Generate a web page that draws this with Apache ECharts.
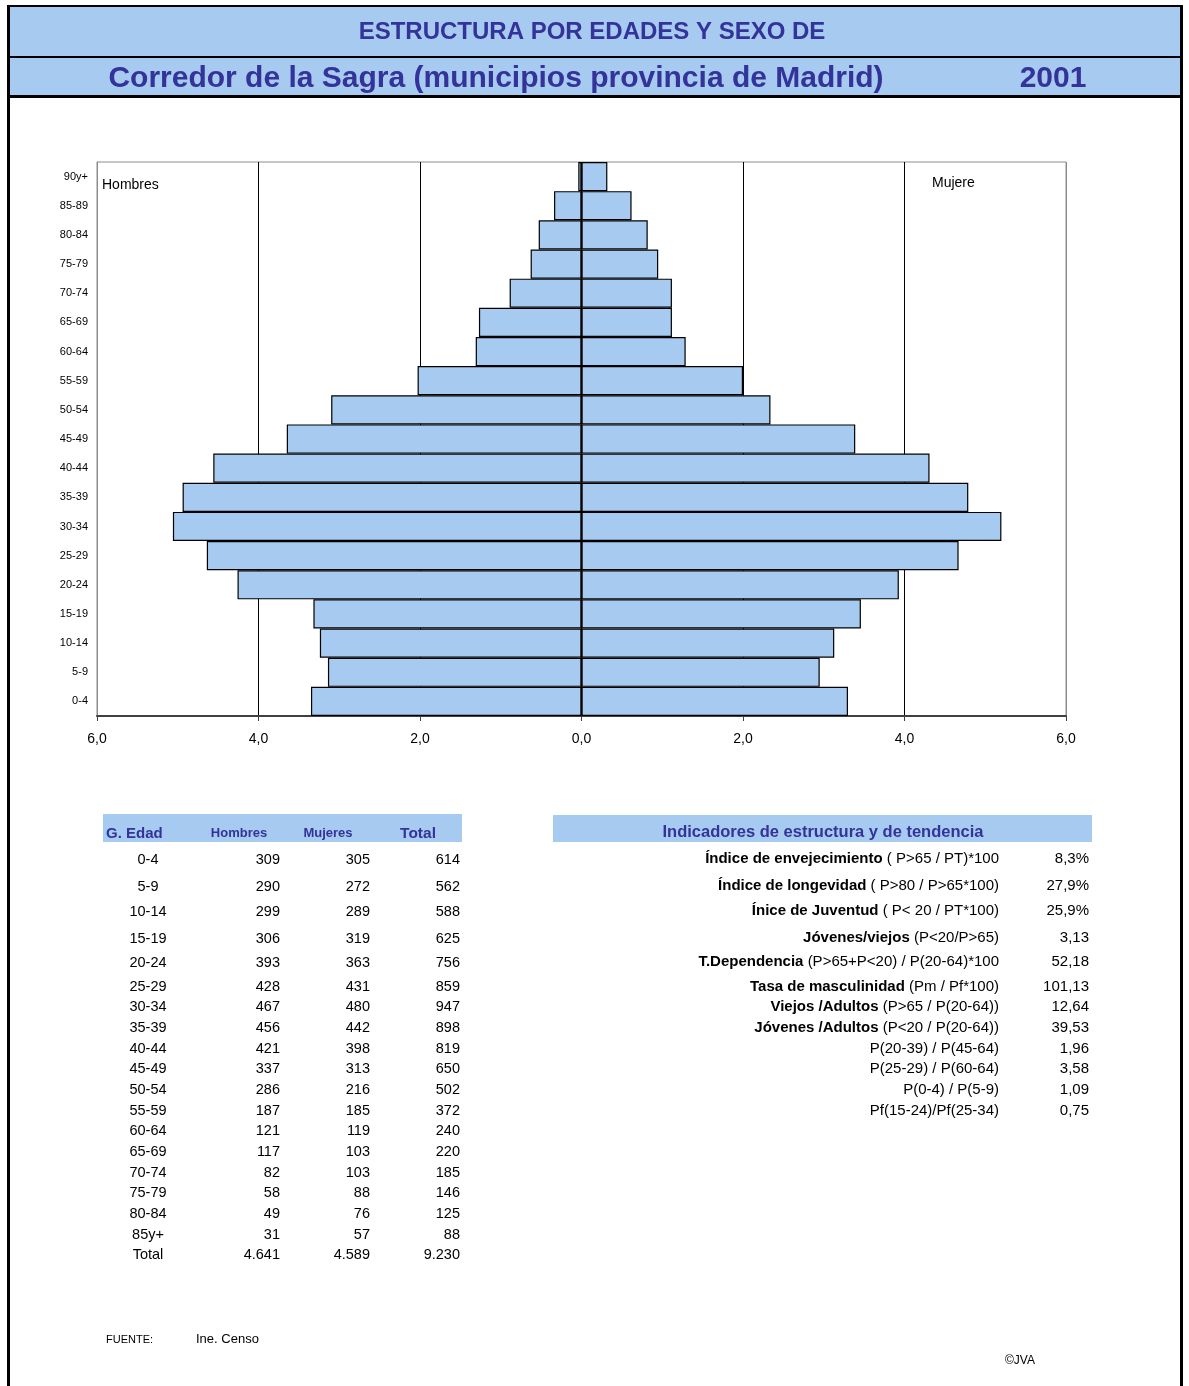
<!DOCTYPE html>
<html>
<head>
<meta charset="utf-8">
<title>Estructura por edades y sexo - Corredor de la Sagra 2001</title>
<script src="https://cdn.jsdelivr.net/npm/echarts@6/dist/echarts.min.js"></script>
<style>
  html, body { margin: 0; padding: 0; background: #fff; }
  #page { width: 1189px; height: 1386px; }
</style>
</head>
<body>
<div id="page"></div>
<script>
// ---- Pyramid data (% of total population) ----
const ageGroups = ['0-4','5-9','10-14','15-19','20-24','25-29','30-34','35-39','40-44','45-49',
                   '50-54','55-59','60-64','65-69','70-74','75-79','80-84','85-89','90y+'];
const hombresPct = [3.35,3.14,3.24,3.32,4.26,4.64,5.06,4.94,4.56,3.65,3.10,2.03,1.31,1.27,0.89,0.63,0.53,0.34,0.04];
const mujeresPct = [3.30,2.95,3.13,3.46,3.93,4.67,5.20,4.79,4.31,3.39,2.34,2.00,1.29,1.12,1.12,0.95,0.82,0.62,0.32];
const axisTicks = [-6, -4, -2, 0, 2, 4, 6];

// ---- Table data (inhabitants) ----
const tablaEdades = ['0-4','5-9','10-14','15-19','20-24','25-29','30-34','35-39','40-44','45-49',
                     '50-54','55-59','60-64','65-69','70-74','75-79','80-84','85y+','Total'];
const tablaHombres = [309,290,299,306,393,428,467,456,421,337,286,187,121,117,82,58,49,31,4641];
const tablaMujeres = [305,272,289,319,363,431,480,442,398,313,216,185,119,103,103,88,76,57,4589];
const tablaTotal   = [614,562,588,625,756,859,947,898,819,650,502,372,240,220,185,146,125,88,9230];

// ---- Structure and trend indicators ----
const indicadoresNombre = ['Índice de envejecimiento','Índice de longevidad','Ínice de Juventud','Jóvenes/viejos',
  'T.Dependencia','Tasa de masculinidad','Viejos /Adultos','Jóvenes /Adultos','','','',''];
const indicadoresFormula = [' ( P>65 / PT)*100',' ( P>80 / P>65*100)',' ( P< 20 / PT*100)',' (P<20/P>65)',
  ' (P>65+P<20) / P(20-64)*100',' (Pm / Pf*100)',' (P>65 / P(20-64))',' (P<20 / P(20-64))',
  'P(20-39) / P(45-64)','P(25-29) / P(60-64)','P(0-4) / P(5-9)','Pf(15-24)/Pf(25-34)'];
const indicadoresValor = ['8,3%','27,9%','25,9%','3,13','52,18','101,13','12,64','39,53','1,96','3,58','1,09','0,75'];

// ---- Layout ----
const FONT = '"Liberation Sans", Arial, sans-serif';
const BLUE_FILL = '#a6caf0';
const TITLE_COLOR = '#333399';
const TEXT_DY = 1.5;  // baseline nudge for middle-aligned text
const tablaRowY = [858,885,910,937,961,985,1005,1026,1047,1067,1088,1109,1129,1150,1171,1191,1212,1233,1253];
const indicRowY = [857,884,909,936,960,985,1005,1026,1047,1067,1088,1109];

function fmtMiles(n) {
  return String(n).replace(/\B(?=(\d{3})+(?!\d))/g, '.');
}
function fmtAxis(v) {
  return Math.abs(v).toFixed(1).replace('.', ',');
}

const graphics = [];
function txt(x, y, text, opts) {
  graphics.push({
    type: 'text', x: x, y: y + TEXT_DY, silent: true,
    style: Object.assign({
      text: text, fontFamily: FONT, fontSize: 14, fill: '#000',
      align: 'left', verticalAlign: 'middle'
    }, opts || {})
  });
}
function rect(x, y, w, h, fill) {
  graphics.push({ type: 'rect', silent: true, shape: { x: x, y: y, width: w, height: h }, style: { fill: fill } });
}

// Header bands and page frame
rect(9, 7, 1172, 49, BLUE_FILL);
rect(9, 58, 1172, 37, BLUE_FILL);
rect(7, 5, 1176, 2, '#000');
rect(7, 56, 1176, 2, '#000');
rect(7, 95, 1176, 3, '#000');
rect(7, 5, 3, 1381, '#000');
rect(1180, 5, 3, 1381, '#000');

txt(592, 31, 'ESTRUCTURA POR EDADES Y SEXO DE', { align: 'center', fontSize: 24, fontWeight: 'bold', fill: TITLE_COLOR });
txt(496, 77, 'Corredor de la Sagra (municipios provincia de Madrid)', { align: 'center', fontSize: 30, fontWeight: 'bold', fill: TITLE_COLOR });
txt(1053, 77, '2001', { align: 'center', fontSize: 30, fontWeight: 'bold', fill: TITLE_COLOR });

// Side captions inside the plot
txt(102, 184, 'Hombres', { fontSize: 14 });
txt(932, 182, 'Mujere', { fontSize: 14 });

// Age / sex table
rect(103, 814, 359, 28, BLUE_FILL);
txt(106, 832, 'G. Edad', { fontSize: 15, fontWeight: 'bold', fill: TITLE_COLOR });
txt(239, 832, 'Hombres', { align: 'center', fontSize: 13, fontWeight: 'bold', fill: TITLE_COLOR });
txt(328, 832, 'Mujeres', { align: 'center', fontSize: 13, fontWeight: 'bold', fill: TITLE_COLOR });
txt(418, 832, 'Total', { align: 'center', fontSize: 15.5, fontWeight: 'bold', fill: TITLE_COLOR });
tablaEdades.forEach(function (g, i) {
  const y = tablaRowY[i];
  txt(148, y, g, { align: 'center', fontSize: 14.5 });
  txt(280, y, fmtMiles(tablaHombres[i]), { align: 'right', fontSize: 14.5 });
  txt(370, y, fmtMiles(tablaMujeres[i]), { align: 'right', fontSize: 14.5 });
  txt(460, y, fmtMiles(tablaTotal[i]), { align: 'right', fontSize: 14.5 });
});

// Indicators block
rect(553, 815, 539, 27, BLUE_FILL);
txt(823, 831, 'Indicadores de estructura y de tendencia', { align: 'center', fontSize: 16.5, fontWeight: 'bold', fill: TITLE_COLOR });
indicadoresFormula.forEach(function (f, i) {
  const y = indicRowY[i];
  const nombre = indicadoresNombre[i];
  const rich = nombre ? '{b|' + nombre + '}{n|' + f + '}' : '{n|' + f + '}';
  graphics.push({
    type: 'text', x: 999, y: y + TEXT_DY, silent: true,
    style: {
      text: rich, align: 'right', verticalAlign: 'middle',
      rich: {
        b: { fontFamily: FONT, fontSize: 15, fontWeight: 'bold', fill: '#000' },
        n: { fontFamily: FONT, fontSize: 15, fill: '#000' }
      }
    }
  });
  txt(1089, y, indicadoresValor[i], { align: 'right', fontSize: 15 });
});

// Footer
txt(106, 1338, 'FUENTE:', { fontSize: 11 });
txt(196, 1338, 'Ine. Censo', { fontSize: 13 });
txt(1005, 1359, '©JVA', { fontSize: 12, fontFamily: '"Liberation Sans Narrow", ' + FONT });

const chart = echarts.init(document.getElementById('page'), null, { renderer: 'canvas' });
chart.setOption({
  animation: false,
  backgroundColor: '#fff',
  grid: {
    left: 97, right: 123, top: 162, height: 554,
    show: true, borderColor: '#8c8c8c', borderWidth: 1, backgroundColor: 'transparent'
  },
  xAxis: {
    type: 'value',
    min: axisTicks[0], max: axisTicks[axisTicks.length - 1], interval: 2,
    axisLine: { show: true, lineStyle: { color: '#404040', width: 2 } },
    axisTick: { show: true, length: 5, lineStyle: { color: '#404040', width: 1 } },
    axisLabel: { formatter: fmtAxis, color: '#000', fontFamily: FONT, fontSize: 14, margin: 16 },
    splitLine: {
      show: true,
      lineStyle: { color: ['#8c8c8c', '#000', '#000', '#000', '#000', '#000', '#8c8c8c'], width: 1 }
    }
  },
  yAxis: {
    type: 'category',
    data: ageGroups,
    axisLine: { show: true, onZero: false, lineStyle: { color: '#8c8c8c', width: 1 } },
    axisTick: { show: false },
    axisLabel: { color: '#000', fontFamily: FONT, fontSize: 11, margin: 9 }
  },
  series: [
    {
      name: 'Hombres', type: 'bar', stack: 'piramide',
      barCategoryGap: '0%',
      data: hombresPct.map(function (v) { return -v; }),
      itemStyle: { color: BLUE_FILL, borderColor: '#000', borderWidth: 1.2 }
    },
    {
      name: 'Mujeres', type: 'bar', stack: 'piramide',
      barCategoryGap: '0%',
      data: mujeresPct,
      itemStyle: { color: BLUE_FILL, borderColor: '#000', borderWidth: 1.2 }
    }
  ],
  graphic: graphics
});
</script>
</body>
</html>
